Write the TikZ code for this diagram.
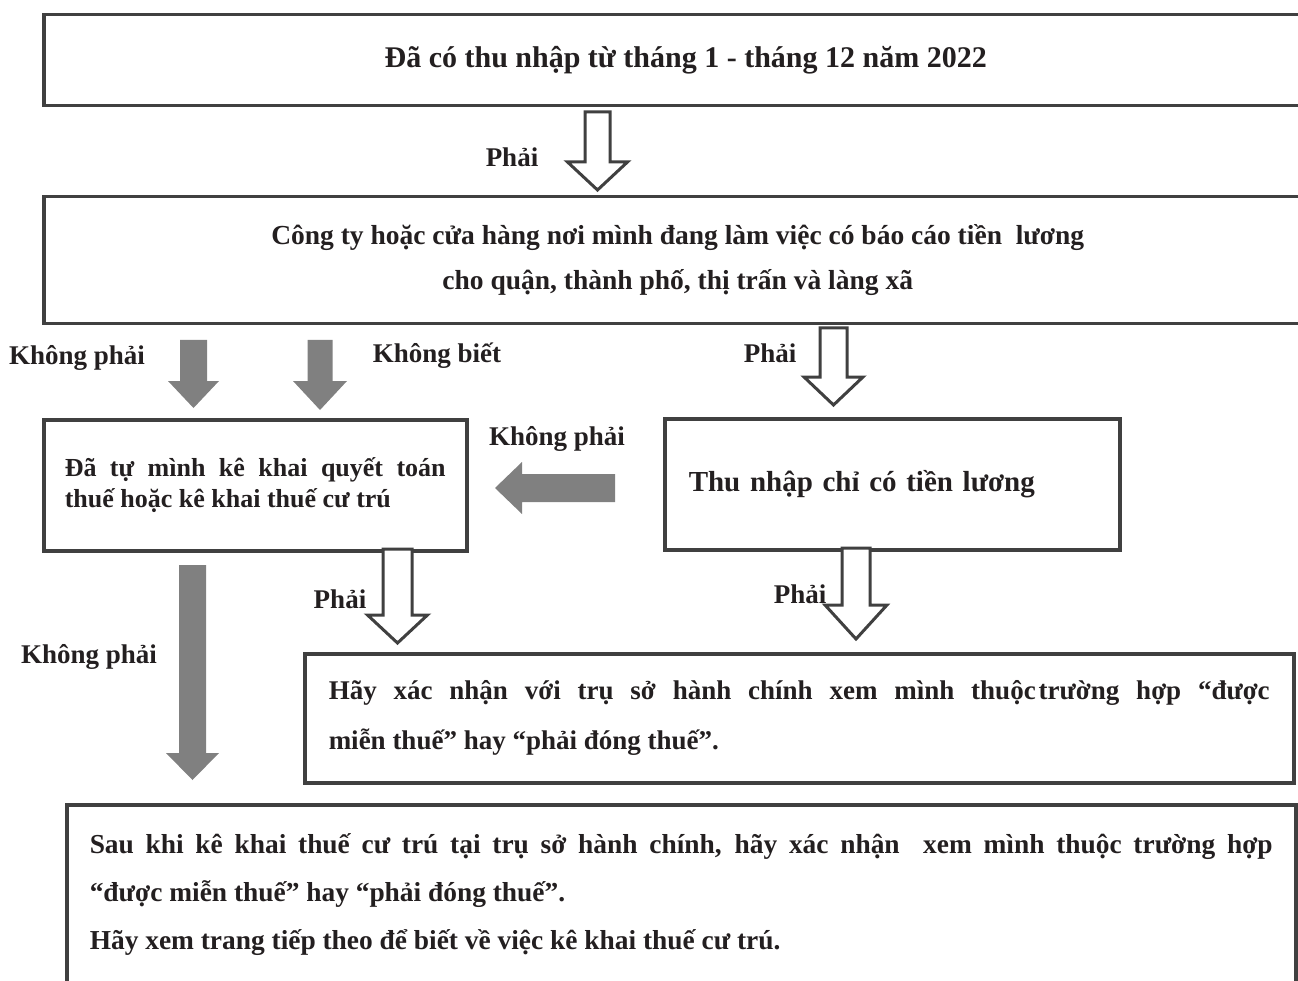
\documentclass[tikz,border=0pt]{standalone}
\usepackage{fontspec}
\setmainfont{Liberation Serif}
\usetikzlibrary{positioning}
\definecolor{boxline}{HTML}{404040}
\definecolor{ink}{HTML}{231F20}
\definecolor{arrowgray}{HTML}{808080}
\tikzstyle{box} = [draw=boxline, line width=3.5pt, fill=white, text=ink, font=\bfseries]
\tikzstyle{lbl} = [text=ink, font=\fontsize{27}{30}\selectfont\bfseries, inner sep=0pt]
\tikzstyle{hollow} = [draw=boxline, line width=3pt, fill=white]
\tikzstyle{grayarrow} = [fill=arrowgray, draw=none]
% block arrow pointing down: [style] x, top, head start, tip, shaft half width, head half width
\newcommand{\blockdown}[7][]{%
  \draw[#1] (#2-#6,#3) -- (#2+#6,#3) -- (#2+#6,#4) -- (#2+#7,#4) -- (#2,#5)
    -- (#2-#7,#4) -- (#2-#6,#4) -- cycle;}

\begin{document}
\begin{tikzpicture}[x=1pt,y=-1pt]
\useasboundingbox (0,0) rectangle (1298,981);
\clip (0,0) rectangle (1298,981);

% boxes
\node[box, anchor=north west, minimum width=1284pt, minimum height=91pt, font=\fontsize{30}{34}\selectfont\bfseries] (income) at (42,13) {Đã có thu nhập từ tháng 1 - tháng 12 năm 2022};
\node[box, anchor=north west, minimum width=1268pt, minimum height=127pt, align=center, font=\fontsize{27.5}{45}\selectfont\bfseries] (report) at (42,195) {Công ty hoặc cửa hàng nơi mình đang làm việc có báo cáo tiền\ \ lương\\cho quận, thành phố, thị trấn và làng xã};
\node[box, anchor=north west, minimum width=423pt, minimum height=131pt, text width=381pt, inner xsep=21pt, align=justify, font=\fontsize{26}{31}\selectfont\bfseries] (selfdecl) at (42,418) {Đã tự mình kê khai quyết toán\linebreak thuế hoặc kê khai thuế cư trú};
\node[box, anchor=north west, minimum width=455pt, minimum height=131pt, text width=407pt, inner xsep=24pt, align=left, font=\fontsize{29}{34}\selectfont\bfseries] (wages) at (663,417) {Thu nhập chỉ có tiền lương};
\node[box, anchor=north west, minimum width=989pt, minimum height=129pt, text width=941pt, inner xsep=24pt, align=justify, font=\fontsize{27}{50}\selectfont\bfseries] (confirm) at (303,652) {\rightskip=15pt Hãy xác nhận với trụ sở hành chính xem mình thuộc\hspace{3pt}trường hợp “được\linebreak miễn thuế” hay “phải đóng thuế”.};
\node[box, anchor=north west, minimum width=1229pt, text width=1183pt, inner xsep=23pt, inner ysep=29pt, align=justify, font=\fontsize{27.4}{48}\selectfont\bfseries] (residence) at (65,803) {\rightskip=11pt Sau khi kê khai thuế cư trú tại trụ sở hành chính, hãy xác nhận\ \ xem mình thuộc trường hợp\linebreak “được miễn thuế” hay “phải đóng thuế”.\\Hãy xem trang tiếp theo để biết về việc kê khai thuế cư trú.\rule[-60pt]{0pt}{60pt}};

% labels
\node[lbl] (yes1) at (512,157) {Phải};
\node[lbl] (no1) at (77,358) {Không phải};
\node[lbl] (unknown) at (437,356) {Không biết};
\node[lbl] (yes2) at (770,353) {Phải};
\node[lbl] (no2) at (557,439) {Không phải};
\node[lbl] (yes3) at (340,599) {Phải};
\node[lbl] (yes4) at (800,594) {Phải};
\node[lbl] (no3) at (89,657) {Không phải};

% arrows
\blockdown[hollow]{597.5}{112}{162}{190}{12.5}{30}
\blockdown[grayarrow]{193.5}{340}{381}{408}{13.5}{25.5}
\blockdown[grayarrow]{320}{340}{381}{410}{12.5}{27}
\blockdown[hollow]{833.5}{328}{377}{405}{13.5}{29.5}
\blockdown[hollow]{397.5}{549}{615}{643}{14.5}{30}
\blockdown[hollow]{856}{548}{605}{639}{14}{31}
\blockdown[grayarrow]{192.5}{565}{753}{780}{13.5}{26.5}
\fill[grayarrow] (615,474) -- (522,474) -- (522,462) -- (495,488) -- (522,514)
  -- (522,502) -- (615,502) -- cycle;
\end{tikzpicture}
\end{document}
